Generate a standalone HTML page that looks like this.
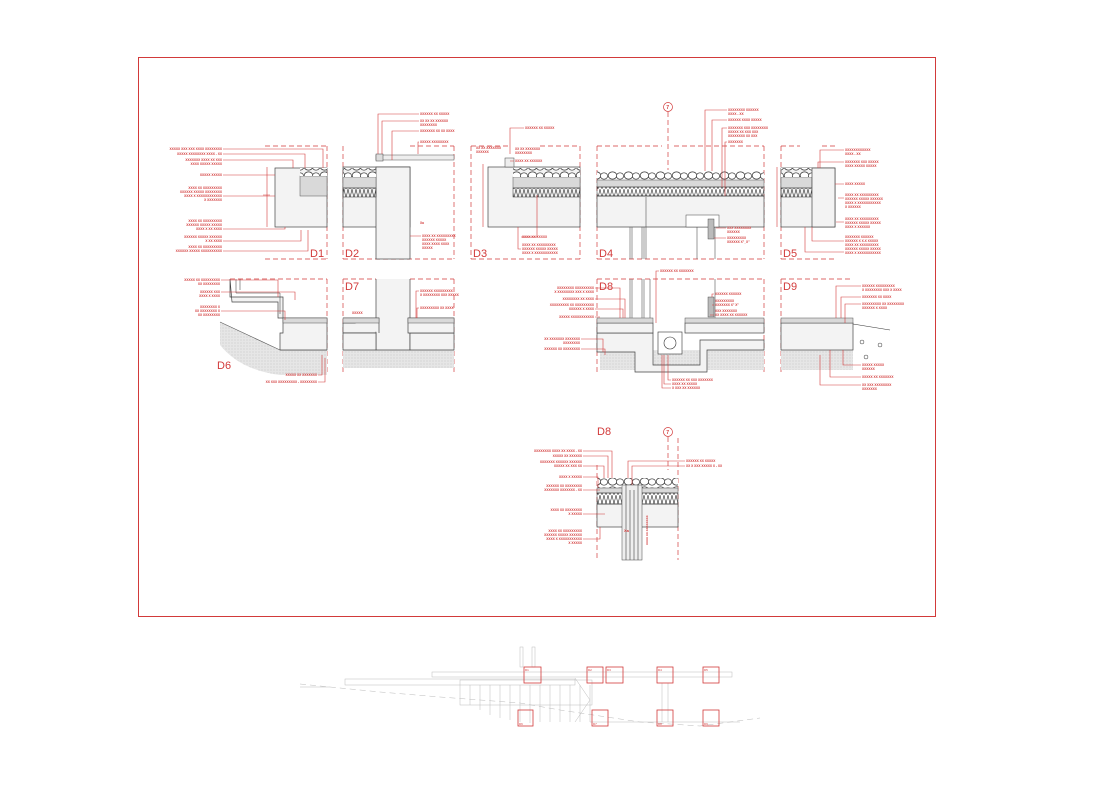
<!DOCTYPE html>
<html><head><meta charset="utf-8">
<style>
html,body{margin:0;padding:0;background:#fff;}
svg{display:block;}
text{font-family:"Liberation Sans",sans-serif;}
.t{font-size:3.2px;fill:#d23a3a;font-weight:bold;}
.te{font-size:3.2px;fill:#d23a3a;text-anchor:end;font-weight:bold;}
.big{font-size:11px;fill:#d23a3a;}
.l{stroke:#d23a3a;stroke-width:0.6;fill:none;}
.d{stroke:#d23a3a;stroke-width:0.7;fill:none;stroke-dasharray:5 3;}
.c{stroke:#444;stroke-width:0.7;fill:#f3f3f3;}
.g{stroke:#555;stroke-width:0.5;fill:#d9d9d9;}
.ins{stroke:#333;stroke-width:0.5;fill:url(#zig);}
.grav{fill:url(#grav);stroke:none;}
.gr{fill:url(#ground);stroke:none;}
.p{stroke:#bbb;stroke-width:0.5;fill:none;}
.sq{stroke:#d23a3a;stroke-width:0.8;fill:none;}
.st{font-size:3px;fill:#d23a3a;}
</style></head>
<body>
<svg width="1116" height="789" viewBox="0 0 1116 789" xmlns="http://www.w3.org/2000/svg">
<defs>
<pattern id="zig" width="4" height="9" patternUnits="userSpaceOnUse">
<path d="M0 0 L2 9 L4 0" stroke="#333" stroke-width="0.6" fill="none"/>
</pattern>
<pattern id="grav" width="16" height="9" patternUnits="userSpaceOnUse">
<ellipse cx="4.5" cy="4.5" rx="4.3" ry="3.6" fill="#fff" stroke="#333" stroke-width="0.7"/>
<ellipse cx="12" cy="5" rx="3.6" ry="3.2" fill="#fff" stroke="#333" stroke-width="0.7"/>
</pattern>
<pattern id="ground" width="3" height="3" patternUnits="userSpaceOnUse">
<rect width="3" height="3" fill="#e6e6e6"/><circle cx="1" cy="1" r="0.5" fill="#bbb"/>
</pattern>
</defs>
<rect width="1116" height="789" fill="#fff"/>
<rect x="138.5" y="57.5" width="797" height="559" fill="none" stroke="#d23a3a" stroke-width="1"/>

<!-- ============ D1 ============ -->
<path class="d" d="M265 146 H327 M327 146 V259 M265 259 H327"/>
<rect class="c" x="275" y="168" width="52" height="59"/>
<rect class="g" x="300" y="176" width="27" height="20"/>
<rect class="grav" x="300" y="168" width="27" height="8"/>
<path class="l" d="M267 167 V227 M263 195 H270"/>
<text class="big" x="310" y="257">D1</text>
<text class="te" x="222" y="150">XXXXX XXX XXX XXXX XXXXXXXX</text>
<text class="te" x="222" y="155">XXXXX XXXXXXXX XXXX - XX</text>
<text class="te" x="222" y="161">XXXXXXX XXXX XX XXX</text>
<text class="te" x="222" y="165">XXXX XXXXX XXXXX</text>
<text class="te" x="222" y="176">XXXXX XXXXX</text>
<text class="te" x="222" y="189">XXXX XX XXXXXXXXX</text>
<text class="te" x="222" y="193">XXXXXX XXXXX XXXXXXXX</text>
<text class="te" x="222" y="197">XXXX X XXXXXXXXXXXX</text>
<text class="te" x="222" y="201">X XXXXXXX</text>
<text class="te" x="222" y="222">XXXX XX XXXXXXXXX</text>
<text class="te" x="222" y="226">XXXXXX XXXXX XXXXX</text>
<text class="te" x="222" y="230">XXXX X XX XXXX</text>
<text class="te" x="222" y="238">XXXXXX XXXXX XXXXXX</text>
<text class="te" x="222" y="242">X XX XXXX</text>
<text class="te" x="222" y="248">XXXX XX XXXXXXXXX</text>
<text class="te" x="222" y="252">XXXXXX XXXXX XXXXXXXXXX</text>
<path class="l" d="M223 149 H323 V168 M223 154 H305 V168 M223 160 H293 V168 M223 175 H275 M223 196 H275 M223 229 H285 V227 M223 241 H301 V230 M223 251 H308 V230"/>

<!-- ============ D2 ============ -->
<path class="d" d="M343 146 V259 M454 146 V259 M343 259 H454 M410 146 H454"/>
<rect class="c" x="343" y="167" width="67" height="60"/>
<rect class="c" x="376" y="167" width="34" height="92"/>
<rect class="g" x="343" y="177" width="33" height="11"/>
<rect class="ins" x="343" y="188" width="33" height="9"/>
<rect class="grav" x="343" y="168" width="33" height="9"/>
<rect x="376" y="155" width="78" height="5" fill="#eee" stroke="#555" stroke-width="0.5"/>
<rect x="376" y="154" width="7" height="7" fill="#ddd" stroke="#444" stroke-width="0.5"/>
<text class="big" x="345" y="257">D2</text>
<text class="t" x="420" y="115">XXXXXX XX XXXXX</text>
<text class="t" x="420" y="122">XX XX XX XXXXXX</text>
<text class="t" x="420" y="126">XXXXXXXX</text>
<text class="t" x="420" y="132">XXXXXXX XX XX XXXX</text>
<text class="t" x="420" y="143">XXXXX XXXXXXXX</text>
<text class="t" x="422" y="237">XXXX XX XXXXXXXXX</text>
<text class="t" x="422" y="241">XXXXXX XXXXX</text>
<text class="t" x="422" y="245">XXXX XXXX XXXX</text>
<text class="t" x="422" y="249">XXXXX</text>
<text class="t" x="420" y="224">Xa</text>
<path class="l" d="M419 114 H378 V154 M419 121 H382 V154 M419 131 H392 V160 M419 142 H418 V154 M421 236 H410"/>

<!-- ============ D3 ============ -->
<path class="d" d="M471 146 V259 M471 259 H580 M580 146 V259 M471 146 H510 M540 146 H580"/>
<rect class="c" x="488" y="167" width="92" height="60"/>
<rect class="g" x="513" y="177" width="67" height="11"/>
<rect class="ins" x="513" y="188" width="67" height="9"/>
<rect class="grav" x="513" y="168" width="67" height="9"/>
<rect x="505" y="158" width="9" height="9" fill="#eee" stroke="#444" stroke-width="0.5"/>
<path class="l" d="M483 164 V227"/>
<text class="big" x="473" y="257">D3</text>
<text class="t" x="525" y="129">XXXXXX XX XXXXX</text>
<text class="t" x="476" y="149">XX XX XXXXXXX</text>
<text class="t" x="476" y="153">XXXXXX</text>
<text class="t" x="515" y="150">XX XX XXXXXXX</text>
<text class="t" x="515" y="154">XXXXXXXX</text>
<text class="t" x="515" y="162">XXXX XX XXXXXX</text>
<text class="t" x="522" y="238">XXXX XX XXXXX</text>
<text class="t" x="522" y="246">XXXX XX XXXXXXXXX</text>
<text class="t" x="522" y="250">XXXXXX XXXXX XXXXX</text>
<text class="t" x="522" y="254">XXXX X XXXXXXXXXXX</text>
<path class="l" d="M524 128 H510 V154 M514 161 H510 M521 237 H537 V195 M521 249 H518 V227"/>

<!-- ============ D4 ============ -->
<path class="d" d="M597 146 V259 M764 146 V259 M597 259 H764 M597 146 H662 M674 146 H764"/>
<path class="d" d="M668 112 V170"/>
<circle cx="668" cy="107" r="4.5" fill="#fff" stroke="#d23a3a" stroke-width="0.7"/>
<text class="t" x="666.3" y="109" style="font-size:5px">7</text>
<rect class="c" x="597" y="196" width="167" height="31"/>
<rect class="g" x="597" y="180" width="167" height="7"/>
<rect class="ins" x="597" y="187" width="167" height="9"/>
<rect class="grav" x="597" y="171" width="167" height="9"/>
<rect x="686" y="215" width="33" height="12" fill="#fff" stroke="#444" stroke-width="0.5"/>
<path d="M630 227 V259 M632 227 V259 M642 227 V259 M644 227 V259 M646 227 V259 M646 197 V259 M697 227 V259 M715 227 V259" stroke="#555" stroke-width="0.6"/>
<rect x="708" y="219" width="6" height="20" fill="#bbb" stroke="#333" stroke-width="0.4"/>
<text class="big" x="599" y="257">D4</text>
<text class="t" x="728" y="111">XXXXXXXX XXXXXX</text>
<text class="t" x="728" y="115">XXXX - XX</text>
<text class="t" x="728" y="121">XXXXXX XXXX XXXXX</text>
<text class="t" x="728" y="129">XXXXXXX XXX XXXXXXXX</text>
<text class="t" x="728" y="133">XXXXX XX XXX XXX</text>
<text class="t" x="728" y="137">XXXXXXXX XX XXX</text>
<text class="t" x="728" y="143">XXXXXXX</text>
<text class="t" x="727" y="229">XXX XXXXXXXX</text>
<text class="t" x="727" y="233">XXXXXX</text>
<text class="t" x="727" y="239">XXXXXXXXX</text>
<text class="t" x="727" y="243">XXXXXX X"_X"</text>
<path class="l" d="M727 110 H705 V171 M727 120 H712 V171 M727 128 H722 V187 M727 142 H725 V196 M726 228 H716 M726 238 H714"/>

<!-- ============ D5 ============ -->
<path class="d" d="M781 146 V259 M781 259 H836 M781 146 H800 M822 146 H836"/>
<rect class="c" x="781" y="168" width="54" height="59"/>
<rect class="g" x="781" y="177" width="31" height="11"/>
<rect class="ins" x="781" y="188" width="31" height="9"/>
<rect class="grav" x="781" y="168" width="31" height="9"/>
<rect class="c" x="812" y="168" width="23" height="59"/>
<path class="l" d="M777 167 V227"/>
<text class="big" x="783" y="257">D5</text>
<text class="t" x="845" y="151">XXXXXXXXXXXX</text>
<text class="t" x="845" y="155">XXXX - XX</text>
<text class="t" x="845" y="163">XXXXXXX XXX XXXXX</text>
<text class="t" x="845" y="167">XXXX XXXXX XXXXX</text>
<text class="t" x="845" y="185">XXXX XXXXX</text>
<text class="t" x="845" y="196">XXXX XX XXXXXXXXX</text>
<text class="t" x="845" y="200">XXXXXX XXXXX XXXXXX</text>
<text class="t" x="845" y="204">XXXX X XXXXXXXXXXX</text>
<text class="t" x="845" y="208">X XXXXXX</text>
<text class="t" x="845" y="220">XXXX XX XXXXXXXXX</text>
<text class="t" x="845" y="224">XXXXXX XXXXX XXXXX</text>
<text class="t" x="845" y="228">XXXX X XXXXXX</text>
<text class="t" x="845" y="238">XXXXXXX XXXXXX</text>
<text class="t" x="845" y="242">XXXXXX X X.X XXXXX</text>
<text class="t" x="845" y="246">XXXX XX XXXXXXXXX</text>
<text class="t" x="845" y="250">XXXXXX XXXXX XXXXX</text>
<text class="t" x="845" y="254">XXXX X XXXXXXXXXXX</text>
<path class="l" d="M844 150 H820 V168 M844 162 H818 V168 M844 184 H835 M844 198 H838 M844 222 H836 M844 241 H812 V227 M844 252 H805 V227"/>

<!-- ============ D6 ============ -->
<path class="d" d="M230 279 H327 M327 279 V375"/>
<path class="gr" d="M220 322 L280 350 H327 V375 H280 Q240 370 220 345 Z"/>
<path d="M220 322 L280 350 H327" stroke="#555" stroke-width="0.6" fill="none"/>
<path class="c" d="M230 279 V297 H283 V318 H327 V350 H280 V333 H283 V318 H278 V302 H232 Z" />
<rect class="g" x="283" y="318" width="44" height="5"/>
<path d="M236 279 V293 H280 V314 M240 279 V290" stroke="#333" stroke-width="0.5" fill="none"/>
<text class="big" x="217" y="369">D6</text>
<text class="te" x="220" y="281">XXXXX XX XXXXXXXXX</text>
<text class="te" x="220" y="285">XX XXXXXXXX</text>
<text class="te" x="220" y="293">XXXXXX XXX</text>
<text class="te" x="220" y="297">XXXX X XXXX</text>
<text class="te" x="220" y="308">XXXXXXXX X</text>
<text class="te" x="220" y="312">XX XXXXXXXX X</text>
<text class="te" x="220" y="316">XX XXXXXXXX</text>
<text class="te" x="317" y="376">XXXXX XX XXXXXXX</text>
<text class="te" x="317" y="383">XX XXX XXXXXXXXX - XXXXXXXX</text>
<path class="l" d="M221 280 H278 V297 M221 292 H295 V300 M221 311 H285 V320 M318 375 H322 V355 M318 382 H325 V358"/>

<!-- ============ D7 ============ -->
<path class="d" d="M343 279 H376 M410 279 H454 M343 279 V375 M454 279 V375"/>
<path class="gr" d="M343 350 H454 V368 H343 Z"/>
<path class="c" d="M343 323 H379 V333 H343 Z"/>
<path class="c" d="M376 279 V350 H410 V279"/>
<path class="c" d="M343 333 H376 V350 H343 Z M410 333 H454 V350 H410 Z"/>
<path class="c" d="M408 318 H454 V333 H408 Z M343 318 H379 V333"/>
<rect class="g" x="343" y="318" width="36" height="5"/>
<rect class="g" x="408" y="318" width="46" height="5"/>
<text class="big" x="345" y="290">D7</text>
<text class="t" x="352" y="314">XXXXX</text>
<text class="t" x="420" y="292">XXXXXX XXXXXXXXX</text>
<text class="t" x="420" y="296">X XXXXXXXX XXX XXXXX</text>
<text class="t" x="420" y="309">XXXXXXXXX XX XXXX</text>
<path class="l" d="M419 291 H416 V318 M419 308 H417 V318"/>

<!-- ============ D8 top ============ -->
<path class="d" d="M597 279 H764 M597 279 V375 M764 279 V375"/>
<path class="gr" d="M600 350 H764 V370 H600 Z"/>
<path class="c" d="M597 333 H653 V365 H700 V340 H764 V350 H707 V372 H635 V352 H597 Z"/>
<rect class="c" x="597" y="323" width="56" height="10"/>
<rect class="c" x="685" y="323" width="79" height="10"/>
<rect class="g" x="597" y="318" width="56" height="5"/>
<rect class="g" x="685" y="318" width="79" height="5"/>
<rect x="658" y="332" width="24" height="22" fill="#fff" stroke="#333" stroke-width="0.6"/>
<circle cx="670" cy="343" r="6" fill="#fff" stroke="#333" stroke-width="0.6"/>
<path d="M630 279 V318 M632 279 V318 M642 279 V318 M644 279 V318 M650 279 V318 M715 279 V318" stroke="#555" stroke-width="0.6"/>
<rect x="708" y="297" width="6" height="20" fill="#bbb" stroke="#333" stroke-width="0.4"/>
<text class="big" x="599" y="290">D8</text>
<text class="t" x="660" y="272">XXXXXX XX XXXXXXX</text>
<text class="te" x="594" y="289">XXXXXXXX XXXXXXXXX</text>
<text class="te" x="594" y="293">X XXXXXXXX XXX X XXXX</text>
<text class="te" x="594" y="300">XXXXXXXX XX XXXX</text>
<text class="te" x="594" y="306">XXXXXXXXX XX XXXXXXXXX</text>
<text class="te" x="594" y="310">XXXXXX X XXXX</text>
<text class="te" x="594" y="318">XXXXX XXXXXXXXXXX</text>
<text class="te" x="580" y="340">XX XXXXXXX XXXXXXX</text>
<text class="te" x="580" y="344">XXXXXXXX</text>
<text class="te" x="580" y="350">XXXXXX XX XXXXXXXX</text>
<text class="t" x="715" y="295">XXXXXX XXXXXX</text>
<text class="t" x="715" y="302">XXXXXXXXX</text>
<text class="t" x="715" y="306">XXXXXXX X" X"</text>
<text class="t" x="715" y="312">XXX XXXXXXX</text>
<text class="t" x="715" y="316">XX XXXX XX XXXXXX</text>
<text class="t" x="672" y="381">XXXXXX XX XXX XXXXXXX</text>
<text class="t" x="672" y="385">XXXX XX XXXXX</text>
<text class="t" x="672" y="389">X XXX XX XXXXXX</text>
<path class="l" d="M659 271 H656 V323 M595 288 H620 V318 M595 299 H625 V318 M595 309 H623 V318 M595 317 H600 M581 339 H603 V352 M581 349 H605 V355 M671 380 H668 V355 M671 384 H664 V355 M671 388 H662 V355 M714 294 H712 V297 M714 305 H712 M714 315 H710"/>

<!-- ============ D9 ============ -->
<path class="d" d="M781 279 H853 M781 279 V375"/>
<path class="gr" d="M781 350 H853 V370 H781 Z"/>
<rect class="c" x="781" y="323" width="72" height="27"/>
<rect class="g" x="781" y="318" width="72" height="5"/>
<path d="M853 324 L890 330" stroke="#333" stroke-width="0.6"/>
<circle cx="862" cy="342" r="2" fill="none" stroke="#333" stroke-width="0.5"/>
<circle cx="880" cy="345" r="2" fill="none" stroke="#333" stroke-width="0.5"/>
<circle cx="866" cy="357" r="2" fill="none" stroke="#333" stroke-width="0.5"/>
<text class="big" x="783" y="290">D9</text>
<text class="t" x="862" y="287">XXXXXX XXXXXXXXX</text>
<text class="t" x="862" y="291">X XXXXXXXX XXX X XXXX</text>
<text class="t" x="862" y="298">XXXXXXX XX XXXX</text>
<text class="t" x="862" y="305">XXXXXXXXX XX XXXXXXXX</text>
<text class="t" x="862" y="309">XXXXXX X XXXX</text>
<text class="t" x="862" y="366">XXXXX XXXXX</text>
<text class="t" x="862" y="370">XXXXXX</text>
<text class="t" x="862" y="378">XXXXX XX XXXXXXX</text>
<text class="t" x="862" y="386">XX XXX XXXXXXXX</text>
<text class="t" x="862" y="390">XXXXXXX</text>
<path class="l" d="M861 286 H836 V318 M861 297 H841 V318 M861 304 H845 V323 M861 365 H843 V350 M861 377 H830 V350 M861 385 H820 V355"/>

<!-- ============ D8 bottom ============ -->
<text class="big" x="597" y="435">D8</text>
<path class="d" d="M597 465 V560 M678 438 V560 M668 437 V470"/>
<circle cx="668" cy="432" r="4.5" fill="#fff" stroke="#d23a3a" stroke-width="0.7"/>
<text class="t" x="666.3" y="434" style="font-size:5px">7</text>
<rect class="c" x="597" y="504" width="81" height="23"/>
<rect class="g" x="597" y="488" width="81" height="5"/>
<rect class="ins" x="597" y="493" width="81" height="11"/>
<rect class="grav" x="597" y="478" width="81" height="10"/>
<rect x="622" y="485" width="20" height="75" fill="#eee" stroke="#444" stroke-width="0.5"/>
<path d="M626 485 V560 M638 485 V560 M630 490 V560 M634 490 V560" stroke="#444" stroke-width="0.6"/>
<text class="t" x="624" y="532" style="font-size:4px">Xa</text>
<text class="te" x="582" y="452">XXXXXXXX XXXX XX XXXX - XX</text>
<text class="te" x="582" y="457">XXXXX XX XXXXXX</text>
<text class="te" x="582" y="463">XXXXXXX XXXXXX XXXXXX</text>
<text class="te" x="582" y="467">XXXXX XX XXX XX</text>
<text class="te" x="582" y="478">XXXX X XXXXX</text>
<text class="te" x="582" y="487">XXXXXX XX XXXXXXXX</text>
<text class="te" x="582" y="491">XXXXXXX XXXXXXX - XX</text>
<text class="te" x="582" y="511">XXXX XX XXXXXXXX</text>
<text class="te" x="582" y="515">X XXXXX</text>
<text class="te" x="582" y="532">XXXX XX XXXXXXXXX</text>
<text class="te" x="582" y="536">XXXXXX XXXXX XXXXXX</text>
<text class="te" x="582" y="540">XXXX X XXXXXXXXXXX</text>
<text class="te" x="582" y="544">X XXXXX</text>
<text class="t" x="686" y="462">XXXXXX XX XXXXX</text>
<text class="t" x="686" y="467">XX X XXX XXXXX X - XX</text>
<path class="l" d="M583 451 H612 V478 M583 456 H608 V478 M583 466 H604 V478 M583 477 H598 V488 M583 490 H600 M583 514 H605 M583 539 H600 V527 M685 461 H628 V478 M685 466 H632 V485"/>
<text class="t" x="648" y="545" style="font-size:3px" transform="rotate(-90 648 545)">XXXX XX XXXXXXXX</text>

<!-- ============ Site plan ============ -->
<g class="p">
<path d="M300 684 L340 688 L380 692 L440 697 L520 703 L560 710 L600 716 L640 722 L700 726 L760 718" stroke-dasharray="6 4"/>
<path d="M300 687 H330"/>
<rect x="432" y="672" width="300" height="5"/>
<rect x="345" y="679" width="230" height="6"/>
<rect x="460" y="680" width="132" height="25"/>
<path d="M470 685 V705 M480 685 V710 M490 685 V715 M500 685 V718 M510 685 V720 M520 685 V722 M530 685 V723 M540 685 V722 M550 685 V722 M560 685 V722 M570 685 V722 M580 685 V722 M590 685 V722"/>
<path d="M575 678 L590 700 L575 722"/>
<rect x="520" y="647" width="3" height="20"/>
<rect x="532" y="647" width="3" height="20"/>
<path d="M662 683 V722 M668 683 V722 M590 722 H740"/>
</g>
<rect class="sq" x="524" y="667" width="17" height="16"/><text class="st" x="525" y="671">D1</text>
<rect class="sq" x="587" y="667" width="16" height="16"/><text class="st" x="588" y="671">D2</text>
<rect class="sq" x="606" y="667" width="17" height="16"/><text class="st" x="607" y="671">D3</text>
<rect class="sq" x="657" y="667" width="16" height="16"/><text class="st" x="658" y="671">D4</text>
<rect class="sq" x="703" y="667" width="16" height="16"/><text class="st" x="704" y="671">D5</text>
<rect class="sq" x="518" y="710" width="15" height="16"/><text class="st" x="519" y="725">D6</text>
<rect class="sq" x="592" y="710" width="16" height="16"/><text class="st" x="593" y="725">D7</text>
<rect class="sq" x="657" y="710" width="16" height="16"/><text class="st" x="658" y="725">D8</text>
<rect class="sq" x="703" y="710" width="16" height="16"/><text class="st" x="704" y="725">D9</text>
</svg>
</body></html>
